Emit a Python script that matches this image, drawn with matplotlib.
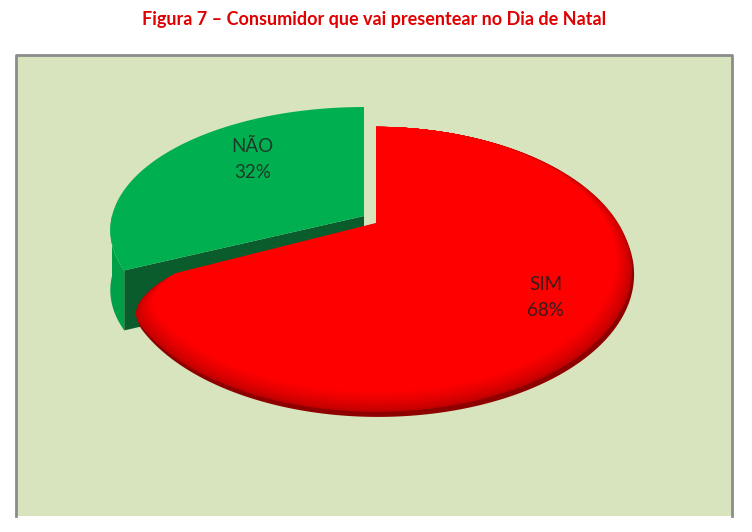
import numpy as np
import matplotlib.pyplot as plt
from matplotlib.patches import Rectangle, Polygon

# data
labels = ['SIM', 'NÃO']
values = [68, 32]
colors = ['#FF0000', '#00B050']
title = 'Figura 7 – Consumidor que vai presentear no Dia de Natal'

plt.rcParams['font.family'] = ['Lato', 'DejaVu Sans']

W, H = 752, 532
fig = plt.figure(figsize=(W / 100, H / 100), dpi=100)
ax = fig.add_axes([0, 0, 1, 1])
ax.set_xlim(0, W)
ax.set_ylim(H, 0)
ax.axis('off')

# chart box
ax.add_patch(Rectangle((16, 55), 716, 461, facecolor='#D7E4BD', edgecolor='none'))
ax.plot([16, 16, 732, 732], [516, 55, 55, 516], color='#8C8C8C', lw=2)

ax.text(374, 20, title, ha='center', va='center', color='#E00000',
        fontsize=13, fontweight='bold')


def proj(geo, theta, r=1.0):
    # tilted disc with a little perspective
    cx, cy, A, B, k = geo
    u = r * np.cos(np.radians(theta))
    v = r * np.sin(np.radians(theta))
    den = 1 + k * v
    return cx + B * u / den, cy - A * v / den


def wedge_pts(geo, t0, t1, r=1.0, n=200, rounded=False):
    cx, cy = geo[0], geo[1]
    if not rounded:
        th = np.linspace(t0, t1, n)
        x, y = proj(geo, th, r)
        return np.vstack([[cx, cy], np.column_stack([x, y]), [cx, cy]])
    # soften the corner at t0 (bevelled look)
    th = np.linspace(t0 + 12, t1, n)
    x, y = proj(geo, th, r)
    c = np.array(proj(geo, t0, r)) + np.array([4, 14])
    p0 = np.array([cx, cy]) + 0.85 * (np.array(proj(geo, t0, r)) - np.array([cx, cy]))
    p2 = np.array([x[0], y[0]])
    s = np.linspace(0, 1, 30)[:, None]
    curve = (1 - s) ** 2 * p0 + 2 * (1 - s) * s * c + s ** 2 * p2
    return np.vstack([[cx, cy], curve, np.column_stack([x, y]), [cx, cy]])


# slice angles, clockwise from 12 o'clock
fr = np.array(values) / sum(values)
ends = 90 - np.cumsum(fr) * 360
starts = np.concatenate([[90], ends[:-1]])
red_t = (ends[0], starts[0])
green_t = (90, ends[0] + 360)

red_geo = (376, 228, 130.4, 245, 0.291)
green_geo = (364, 216, 121.5, 252, 0.115)
depth = 60

# green slice (exploded, with visible walls)
g0, g1 = green_t
cx, cy = green_geo[0], green_geo[1]
ex, ey = proj(green_geo, g1)
side = np.array([[cx, cy], [ex, ey], [ex, ey + depth], [cx, cy + depth]])
ax.add_patch(Polygon(side, closed=True, facecolor='#0B5C2D', edgecolor='none'))
th = np.linspace(180, g1, 60)
wx, wy = proj(green_geo, th)
wall = np.vstack([np.column_stack([wx, wy]), np.column_stack([wx, wy + depth])[::-1]])
ax.add_patch(Polygon(wall, closed=True, facecolor='#00A048', edgecolor='none'))
ax.add_patch(Polygon(wedge_pts(green_geo, g0, g1), closed=True,
                     facecolor=colors[1], edgecolor='none'))

# red slice with soft bevelled rim
r0, r1 = red_t
shadow = wedge_pts(red_geo, r0, r1, rounded=True) + np.array([2, 5])
ax.add_patch(Polygon(shadow, closed=True, facecolor='#8E0000', edgecolor='none'))
rings = np.linspace(1.0, 0.94, 14)
for i, r in enumerate(rings):
    f = i / (len(rings) - 1)
    c = (0.74 + 0.26 * f ** 0.7, 0, 0)
    pts = wedge_pts(red_geo, r0, r1, r, rounded=True) + np.array([0, -5 * f])
    ax.add_patch(Polygon(pts, closed=True, facecolor=c, edgecolor='none'))

# labels
mid_red = (r0 + r1) / 2
lx, ly = proj(red_geo, mid_red, 0.75)
ax.text(lx - 6, ly + 10, f'{labels[0]}\n{values[0]}%', ha='center', va='center',
        fontsize=13.5, color='#3A1A1A', linespacing=1.6)
mid_green = (g0 + g1) / 2
lx, ly = proj(green_geo, mid_green, 0.55)
ax.text(lx + 2, ly - 22, f'{labels[1]}\n{values[1]}%', ha='center', va='center',
        fontsize=13.5, color='#1E3A28', linespacing=1.6)

fig.savefig('out.png', dpi=100)
